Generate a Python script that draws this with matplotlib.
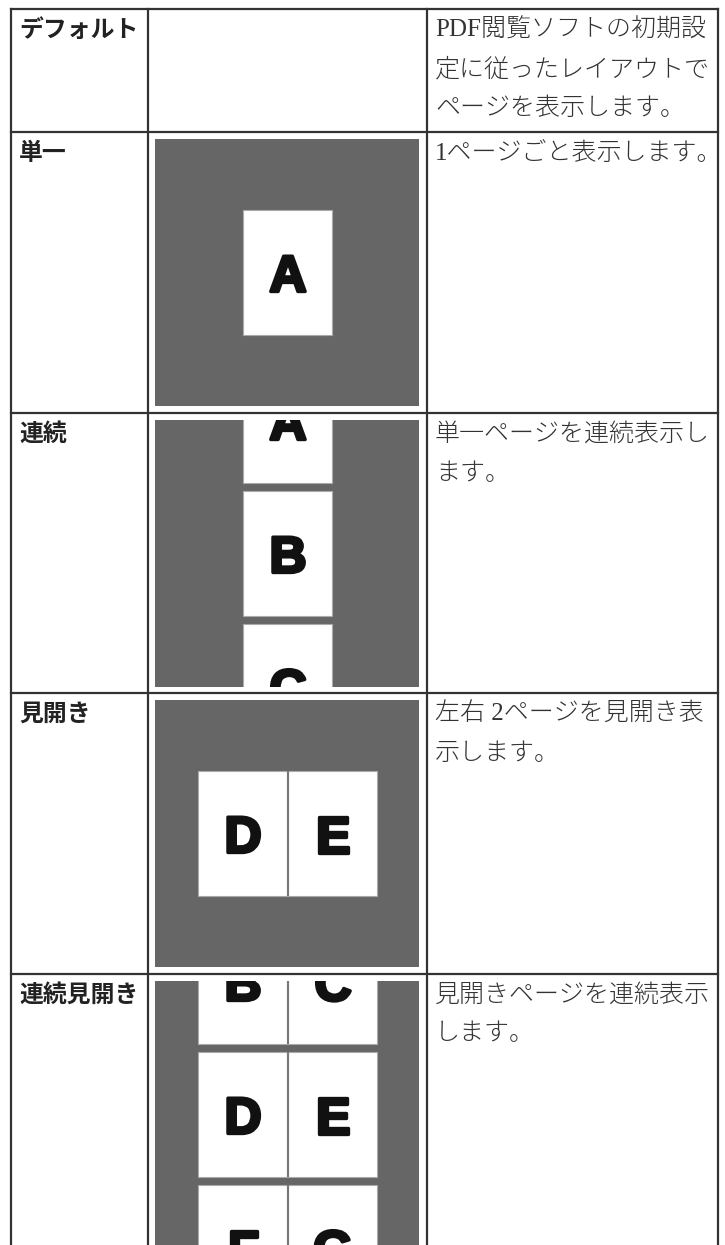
import matplotlib.pyplot as plt
from matplotlib.patches import Rectangle
import matplotlib.patheffects as pe

# table content
row_labels = ["デフォルト", "単一", "連続", "見開き", "連続見開き"]
row_texts = [
    ["PDF閲覧ソフトの初期設", "定に従ったレイアウトで", "ページを表示します。"],
    ["1ページごと表示します。"],
    ["単一ページを連続表示し", "ます。"],
    ["左右 2ページを見開き表", "示します。"],
    ["見開きページを連続表示", "します。"],
]
row_tops = [9, 132, 413, 693, 974]
# page letters for each illustration: list of page rows, each a list of pages
row_pages = [
    None,
    [["A"]],
    [["A"], ["B"], ["C"]],
    [["D", "E"]],
    [["B", "C"], ["D", "E"], ["F", "G"]],
]
# which page row is centred in the view
row_center_idx = [None, 0, 1, 0, 1]

W, H = 725, 1245
col_x = [11, 148, 427, 718]
line_col = "#333333"
gray = "#666666"

fig = plt.figure(figsize=(W / 100, H / 100), dpi=100)
ax = fig.add_axes([0, 0, 1, 1])
ax.set_xlim(0, W)
ax.set_ylim(H, 0)
ax.axis("off")

label_font = ["Noto Sans CJK JP", "DejaVu Sans"]
text_font = ["Liberation Serif", "Noto Sans CJK JP"]

page_w, page_h, gap = 89, 125, 8
view_x0, view_w, view_h = 155, 264, 267
heavy = [pe.withStroke(linewidth=2.4, foreground="#111111")]

for i, top in enumerate(row_tops):
    # header label
    ax.text(19, top + 21, row_labels[i], family=label_font, fontweight="bold",
            fontsize=17.2, color="#222222", va="center", ha="left")
    # description
    for j, line in enumerate(row_texts[i]):
        ax.text(435, top + 21 + 39.5 * j, line, family=text_font, fontweight="light",
                fontsize=18, color="#333333", va="center", ha="left")

    pages = row_pages[i]
    if pages is None:
        continue
    view_y0 = top + 7
    view = Rectangle((view_x0, view_y0), view_w, view_h, facecolor=gray,
                     edgecolor="none", zorder=1)
    ax.add_patch(view)
    cy = view_y0 + view_h / 2
    cx = view_x0 + view_w / 2 + 1
    n_cols = len(pages[0])
    spread_w = page_w * n_cols + (n_cols - 1)
    x_left = cx - spread_w / 2
    for k, prow in enumerate(pages):
        pcy = cy + (k - row_center_idx[i]) * (page_h + gap)
        py0 = pcy - page_h / 2
        for m, letter in enumerate(prow):
            px0 = x_left + m * (page_w + 1)
            pg = Rectangle((px0, py0), page_w, page_h, facecolor="white",
                           edgecolor="#aaaaaa", lw=0.8, zorder=2)
            ax.add_patch(pg)
            pg.set_clip_path(view)
            t = ax.text(px0 + page_w / 2, pcy + 19, letter, family="Liberation Sans",
                        fontweight="bold", fontsize=37, color="#111111",
                        ha="center", va="baseline", zorder=3, clip_on=True,
                        path_effects=heavy)
            t.set_clip_path(view)
        if n_cols == 2:
            ln, = ax.plot([x_left + page_w + 0.5] * 2, [py0, py0 + page_h],
                          color="#777777", lw=1.5, zorder=3, solid_capstyle="butt")
            ln.set_clip_path(view)

# table grid
for top in row_tops:
    ax.plot([col_x[0], col_x[-1]], [top, top], color=line_col, lw=1.6,
            solid_capstyle="projecting", zorder=5)
for x in col_x:
    ax.plot([x, x], [row_tops[0], H + 5], color=line_col, lw=1.6, zorder=5)

fig.savefig("out.png", dpi=100)
